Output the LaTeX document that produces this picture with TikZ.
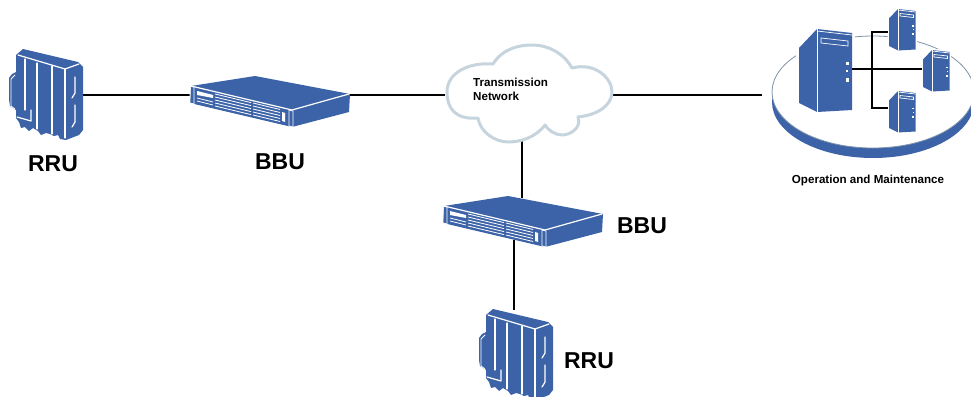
\documentclass[tikz,border=0pt]{standalone}
\usepackage{fontspec}
\setmainfont{Liberation Sans}
\definecolor{devblue}{HTML}{3C63A8}
\definecolor{cloudedge}{HTML}{C6D4DE}
\definecolor{discline}{HTML}{7F93A8}
\tikzset{
  x=1pt,y=-1pt,
  wline/.style={draw=white,line width=1.2pt,line cap=round,line join=round},
  wthin/.style={draw=white,line width=.8pt},
  link/.style={draw=black,line width=2.2pt},
  thinlink/.style={draw=black,line width=1.3pt},
  anchorbox/.style={inner sep=0pt,outer sep=0pt,draw=none},
  biglabel/.style={font=\fontsize{23}{23}\selectfont\bfseries,inner sep=0pt},
  smalllabel/.style={font=\fontsize{11.6}{14}\selectfont\bfseries,inner sep=0pt,align=left},
  rruicon/.pic={
    \fill[devblue] (23,49) -- (78,62) -- (83,67) -- (83,130) -- (79,135) -- (66,140) -- (60,139) -- (58,135)
      -- (54,136) -- (50,134) -- (46,133) -- (41,135) -- (38,131) -- (33,128) -- (29,131) -- (25,127) -- (21,128)
      -- (19,122) -- (16,118) -- (16,110) -- (10,106) -- (9,100) -- (9,78) -- (12,74) -- (16,72) -- (16,55) -- cycle;
    \draw[wline] (18,55) -- (65,69) -- (79,64);
    \draw[wline] (65,69) -- (65,138);
    \draw[wline] (25,59) -- (25,110);
    \draw[wline] (37,63) -- (37,129);
    \draw[wline] (52,66) -- (52,134);
    \draw[wline] (17,117) -- (31,121) -- (31,110);
    \draw[wline] (75,77) -- (75,93) -- (72,98);
    \draw[wline] (75,105) -- (75,122) -- (72,127);
    \draw[wthin] (15,75) -- (11,79) -- (11,106) -- (15,109);
  },
  bbuicon/.pic={
    \fill[devblue] (191,86) -- (255,76) -- (350,94) -- (349,112) -- (292,127) -- (190,103) -- cycle;
    \draw[wline] (191,86) -- (292,110) -- (349,94);
    \draw[wthin] (190,86) -- (194,87) -- (194,104) -- (190,103) -- cycle;
    \draw[wthin] (289,110) -- (293,111) -- (293,127) -- (289,126) -- cycle;
    \fill[white] (197,91) -- (213,95) -- (213,98) -- (197,95) -- cycle;
    \draw[wthin] (197,98) -- (213,102);
    \draw[wthin] (197,101) -- (213,105);
    \foreach \k in {94,97,100,103,106} \draw[wthin] (215,\k) -- (251,\k+8.6);
    \foreach \k in {103,106,109,112,115} \draw[wthin] (253,\k) -- (280,\k+6.5);
    \fill[white] (282,112) -- (285,113) -- (285,122) -- (282,121) -- cycle;
  },
  servericon/.pic={
    \fill[white] (-3,18) -- (17,-3) -- (56,1) -- (56,84) -- (17,86) -- (-3,76) -- cycle;
    \fill[devblue] (0,19) -- (18,0) -- (53,4) -- (53,81) -- (18,83) -- (0,74) -- cycle;
    \draw[draw=white,line width=.7pt] (18,0) -- (18,83);
    \draw[draw=white,line width=.7pt] (18,2) -- (53,6);
    \draw[draw=white,line width=.7pt] (22,9) -- (49,12) -- (49,17) -- (22,14) -- cycle;
    \fill[white] (46.5,33) rectangle (49.5,36);
    \fill[white] (47,41) rectangle (49,43);
    \fill[white] (46.5,49) rectangle (49.5,53);
  }
}
\begin{document}
\begin{tikzpicture}
\useasboundingbox (0,0) rectangle (971,396);
% anchor boxes of the devices
\node[anchorbox,minimum width=75pt,minimum height=20pt] (rru1) at (45.5,95) {};
\node[anchorbox,minimum width=160pt,minimum height=20pt] (bbu1) at (270,95) {};
\node[anchorbox,minimum width=166pt,minimum height=95pt] (cloud) at (528,95) {};
\node[anchorbox,minimum width=160pt,minimum height=20pt] (bbu2) at (522,208) {};
\node[anchorbox,minimum width=72pt,minimum height=20pt] (rru2) at (514,320) {};
\node[anchorbox,minimum width=200pt,minimum height=20pt] (oam) at (862,95) {};
\coordinate (bbu2b) at (514,240);
\coordinate (cloudb) at (522,140);
% connectors
\draw[link] (rru1.east) -- (bbu1.west);
\draw[link] (bbu1.east) -- (cloud.west);
\draw[link] (cloud.east) -- (oam.west);
\draw[link] (cloudb) -- (bbu2.north);
\draw[link] (bbu2b) -- (rru2.north);
% devices
\pic at (0,0) {rruicon};
\pic at (470,260) {rruicon};
\pic at (0,0) {bbuicon};
\pic at (253,120) {bbuicon};
% cloud
\filldraw[draw=cloudedge,fill=white,line width=3pt,line join=round]
  (478,118) .. controls (455,120) and (447,108) .. (447,92)
  .. controls (447,72) and (470,62) .. (493,64)
  .. controls (503,48) and (520,45) .. (532,45)
  .. controls (550,45) and (565,55) .. (572,68)
  .. controls (595,62) and (612,78) .. (612,92)
  .. controls (612,105) and (598,115) .. (578,117)
  .. controls (582,128) and (570,135) .. (562,135)
  .. controls (555,135) and (548,130) .. (545,125)
  .. controls (535,138) and (520,142) .. (508,142)
  .. controls (495,142) and (480,132) .. (478,118) -- cycle;
% disc
\fill[devblue] (873,102) ellipse [x radius=101, y radius=56];
\filldraw[draw=discline,fill=white,line width=.8pt] (873,92) ellipse [x radius=101, y radius=56];
% servers
\pic at (799,29) {servericon};
\pic[scale=.5] at (889,9) {servericon};
\pic[scale=.5] at (923,50) {servericon};
\pic[scale=.5] at (889,91) {servericon};
\coordinate (hub) at (852,69);
\coordinate (trunkmid) at (872,69);
\coordinate (srvtop) at (888,32);
\coordinate (srvright) at (922,69);
\coordinate (srvbottom) at (888,108);
\draw[thinlink] (hub) -- (srvright);
\draw[thinlink] (srvtop) -| (trunkmid) |- (srvbottom);
% labels
\node[biglabel] (l1) at (53,164) {RRU};
\node[biglabel] (l2) at (280,162) {BBU};
\node[biglabel] (l3) at (642,226) {BBU};
\node[biglabel] (l4) at (589,361) {RRU};
\node[smalllabel,anchor=west] (l5) at (473,89) {Transmission\\Network};
\node[smalllabel] (l6) at (868,180) {Operation and Maintenance};
\end{tikzpicture}
\end{document}
